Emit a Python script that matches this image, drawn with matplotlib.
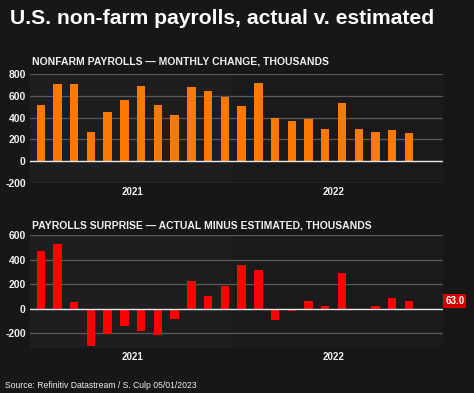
import numpy as np
from matplotlib import pyplot as plt

# monthly data, Jan 2021 .. Nov 2022
months = np.arange(23)
payrolls = [520, 710, 704, 269, 447, 557, 689, 517, 424, 677, 647, 588,
            504, 714, 398, 368, 386, 293, 537, 292, 269, 284, 263]
surprise = [470, 527, 54, -305, -205, -143, -184, -216, -81, 227, 100, 186,
            357, 316, -89, -22, 65, 24, 289, -4, 19, 89, 63]
years = ['2021', '2022']
year_pos = [5.5, 17.5]

BG = '#171718'
PANEL_A = '#1e1e20'
PANEL_B = '#1a1a1c'
ORANGE = '#ff7800'
RED = '#ff0000'
TXT = '#f0f0f0'
FONT = 'Liberation Sans'

plt.rcParams['font.family'] = FONT

fig = plt.figure(figsize=(4.74, 3.93), dpi=100, facecolor=BG)

W, H = 474, 393


def make_axes(top, bottom):
    left, right = 30, 443
    return fig.add_axes([left / W, 1 - bottom / H, (right - left) / W, (bottom - top) / H])


def style(ax, ylim, yticks):
    ax.set_facecolor(PANEL_B)
    ax.axvspan(-0.64, 11.5, color=PANEL_A, zorder=0, lw=0)
    ax.set_xlim(-0.64, 24.03)
    ax.set_ylim(*ylim)
    ax.set_yticks(yticks)
    ax.set_yticklabels([str(t) for t in yticks], fontsize=7.5, fontweight='bold', color=TXT)
    ax.set_xticks(year_pos)
    ax.set_xticklabels(years, fontsize=7, fontweight='bold', color=TXT)
    ax.tick_params(length=0, pad=3)
    for s in ax.spines.values():
        s.set_visible(False)
    for t in yticks:
        if t == 0:
            ax.axhline(0, color='#e8e8e8', lw=1.0, zorder=3)
        else:
            ax.axhline(t, color='#5a5a5a', lw=0.9, zorder=1)


ax1 = make_axes(74, 183)
style(ax1, (-200, 800), [-200, 0, 200, 400, 600, 800])
ax1.bar(months, payrolls, width=0.5, color=ORANGE, zorder=2)

ax2 = make_axes(235, 348)
style(ax2, (-320, 600), [-200, 0, 200, 400, 600])
ax2.bar(months, surprise, width=0.5, color=RED, zorder=2)

ax2.annotate('%.1f' % surprise[-1], xy=(1, surprise[-1]),
             xycoords=('axes fraction', 'data'), xytext=(8.6, 0),
             textcoords='offset points', ha='center', va='center',
             fontsize=7, fontweight='bold', color='white', annotation_clip=False,
             bbox=dict(boxstyle='square,pad=0.2', fc='#d40000', ec='none'))

fig.text(10 / W, 1 - 18 / H, 'U.S. non-farm payrolls, actual v. estimated',
         fontsize=15.2, fontweight='bold', color='white', va='center', ha='left')
fig.text(32 / W, 1 - 62 / H, 'NONFARM PAYROLLS \u2014 MONTHLY CHANGE, THOUSANDS',
         fontsize=7.5, fontweight='bold', color=TXT, va='center', ha='left')
fig.text(32 / W, 1 - 226 / H, 'PAYROLLS SURPRISE \u2014 ACTUAL MINUS ESTIMATED, THOUSANDS',
         fontsize=7.5, fontweight='bold', color=TXT, va='center', ha='left')
fig.text(5 / W, 1 - 385 / H, 'Source: Refinitiv Datastream / S. Culp 05/01/2023',
         fontsize=6.2, color=TXT, va='center', ha='left')

fig.savefig('out.png', dpi=100, facecolor=BG)
